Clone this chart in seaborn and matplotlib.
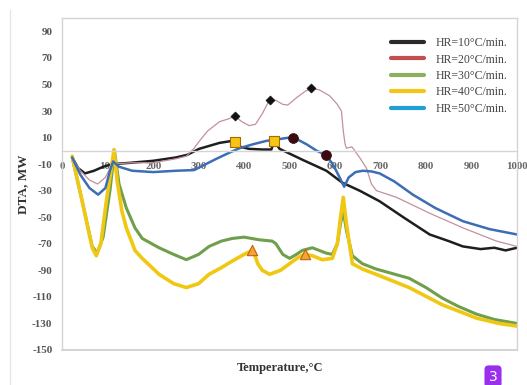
"""DTA curves at five heating rates."""

import matplotlib
matplotlib.use('Agg')
import matplotlib.pyplot as plt
from matplotlib.lines import Line2D
import seaborn as sns
import pandas as pd

# HR=10 (black)
t_10 = [22, 35, 50, 70, 90, 110, 150, 200, 250, 275, 301, 346, 374, 380, 392, 411, 440, 460, 466,
        478, 530, 581, 616, 654, 698, 750, 808, 850, 881, 920, 950, 975, 1000]
v_10 = [-5, -13, -17, -15, -12, -10, -9, -7.5, -5, -3, 1.5, 6, 7.5, 7, 3, 1.5, 1, 1, 7.5,
        1.5, -7, -15, -24, -30, -38, -50, -63, -68, -72, -74, -73, -75, -73]

# HR=20 (thin red)
t_20 = [22, 40, 60, 78, 95, 110, 150, 200, 250, 273, 290, 302, 320, 346, 365, 380, 395, 411, 425,
        440, 456, 470, 485, 496, 515, 535, 548, 565, 588, 605, 614, 618, 622, 625, 637, 654, 669,
        680, 691, 735, 808, 881, 955, 1000]
v_20 = [-5, -15, -22, -25, -20, -10, -9, -9, -6, -4, 2, 7.5, 15, 22, 24, 26, 22, 19, 20,
        28, 38.5, 38, 35, 34.5, 40, 45, 47, 46, 41.5, 35, 30, 15, 5, 2, 3, -5, -13,
        -25, -30, -35, -47, -58, -68, -72]

# HR=30 (green)
t_30 = [22, 44, 66, 77, 90, 105, 115, 125, 141, 160, 176, 213, 245, 273, 300, 323, 350, 374, 400,
        433, 462, 470, 485, 500, 515, 528, 550, 580, 594, 605, 612, 618, 625, 638, 660, 690, 763,
        800, 836, 870, 911, 950, 1000]
v_30 = [-5, -38, -72, -77, -65, -30, 0, -25, -43, -58, -66, -73, -78, -82, -78, -72, -68, -66, -65,
        -67, -68, -70, -78, -81, -78, -75, -73, -77, -78, -70, -55, -45, -60, -79, -85, -89, -96,
        -103, -111, -117, -123, -127, -130]

# HR=40 (yellow)
t_40 = [22, 44, 66, 75, 85, 97, 114, 121, 131, 141, 160, 176, 213, 245, 273, 300, 323, 350, 374,
        400, 418, 425, 430, 440, 456, 480, 500, 520, 533, 550, 572, 594, 605, 612, 618, 625, 638,
        660, 690, 763, 836, 911, 960, 1000]
v_40 = [-4, -38, -73, -79, -70, -38, 1, -23, -45, -58, -75, -81, -93, -100, -103, -100, -93, -88, -83,
        -78, -75, -80, -85, -90, -93, -90, -85, -80, -78, -79, -82, -81, -70, -50, -35, -55, -85,
        -89, -93, -103, -116, -126, -130, -132]

# HR=50 (blue)
t_50 = [22, 40, 60, 79, 95, 105, 112, 125, 154, 200, 250, 290, 339, 370, 390, 420, 449, 480, 500,
        515, 537, 560, 579, 595, 610, 620, 630, 645, 661, 680, 698, 730, 771, 820, 881, 940, 1000]
v_50 = [-5, -18, -28, -33, -28, -15, -8, -12, -15, -16, -15, -14.5, -6, -1, 2, 5, 7.5, 9, 10,
        9, 5, 0, -3, -10, -20, -27, -20, -16, -15, -15.5, -17, -23, -33, -43, -53, -59, -63]

labels = ["HR=10°C/min.", "HR=20°C/min.", "HR=30°C/min.", "HR=40°C/min.", "HR=50°C/min."]

# peak markers
diamond_t = [380, 456, 548]
diamond_v = [26, 38.5, 47]
square_t = [380, 466]
square_v = [7, 7.5]
circle_t = [507, 579]
circle_v = [10, -3]
tri_t = [418, 533]
tri_v = [-75, -78]

y_ticks = list(range(-150, 100, 20))
x_ticks = list(range(0, 1001, 100))

line_colors = ["#1e1e1e", "#c4909c", "#6f9f4c", "#f0c814", "#3d6db5"]
legend_colors = ["#2a2a2a", "#c0504d", "#8cb060", "#f5c518", "#1f9fd6"]
widths = [1.8, 0.9, 2.2, 2.6, 1.8]

sns.set_style("white")
plt.rcParams["font.family"] = ["Liberation Serif", "DejaVu Serif"]

fig = plt.figure(figsize=(5.27, 3.85), dpi=100)
ax = fig.add_axes([0.118, 0.091, 0.863, 0.862])

series = [(t_10, v_10), (t_20, v_20), (t_30, v_30), (t_40, v_40), (t_50, v_50)]
for (t, v), lab, col, lw in zip(series, labels, line_colors, widths):
    df = pd.DataFrame({"T": t, "DTA": v})
    sns.lineplot(data=df, x="T", y="DTA", color=col, lw=lw, sort=False,
                 estimator=None, ax=ax, legend=False)

sns.scatterplot(x=diamond_t, y=diamond_v, marker="D", s=22, color="#111111",
                edgecolor="#111111", ax=ax, zorder=5)
sns.scatterplot(x=square_t, y=square_v, marker="s", s=45, color="#f5c518",
                edgecolor="#a86a00", linewidth=0.8, ax=ax, zorder=5)
sns.scatterplot(x=circle_t, y=circle_v, marker="o", s=50, color="#3a0c12",
                edgecolor="#3a0c12", ax=ax, zorder=5)
sns.scatterplot(x=tri_t, y=tri_v, marker="^", s=55, color="#f2a33a",
                edgecolor="#c4620a", linewidth=0.8, ax=ax, zorder=5)

ax.set_xlim(0, 1000)
ax.set_ylim(-150, 100)
ax.set_yticks(y_ticks)
ax.set_yticklabels([str(y) for y in y_ticks])
ax.set_xticks(x_ticks)
ax.set_xticklabels([str(x) for x in x_ticks])

frame = "#d4d4d4"
for s in ax.spines.values():
    s.set_color(frame)
    s.set_linewidth(1.0)
ax.spines["bottom"].set_position(("data", 0))
ax.axhline(-150, color=frame, lw=1.4, clip_on=False)

ax.tick_params(axis="y", direction="out", length=4, color=frame, labelsize=8,
               labelcolor="#555555", pad=3)
ax.tick_params(axis="x", direction="in", length=4, color=frame, labelsize=7.8,
               labelcolor="#666666", pad=8)
for lab in ax.get_xticklabels() + ax.get_yticklabels():
    lab.set_fontweight("bold")

ax.set_xlabel("Temperature,°C", fontsize=9, fontweight="bold", color="#333333")
ax.xaxis.set_label_coords(0.48, -0.035)
ax.set_ylabel("DTA, MW", fontsize=9.5, fontweight="bold", color="#333333", labelpad=2)

handles = [Line2D([0], [0], color=c, lw=3) for c in legend_colors]
ax.legend(handles, labels, loc="upper left", bbox_to_anchor=(0.7, 0.975), frameon=False,
          fontsize=8.5, handlelength=2.8, handletextpad=1.0, labelspacing=0.38,
          labelcolor="#444444")

fig.add_artist(Line2D([0.019, 0.019], [0.0, 0.975], color="#e6e6e6", lw=1))
fig.text(0.9355, 0.022, "3", color="white", fontsize=10, family="DejaVu Sans",
         ha="center", va="center",
         bbox=dict(boxstyle="round,pad=0.3", facecolor="#9b2ff0", edgecolor="none"))

fig.savefig("out.png", dpi=100)
